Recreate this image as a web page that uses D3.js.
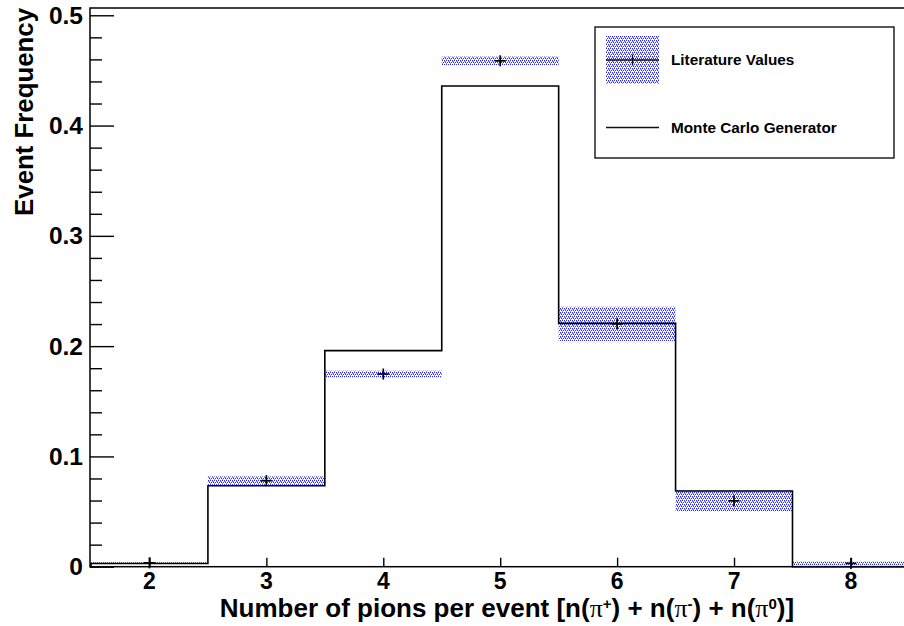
<!DOCTYPE html>
<html><head><meta charset="utf-8">
<script src="https://cdn.jsdelivr.net/npm/d3@7"></script>
<style>body{margin:0;background:#fff}svg{display:block}text{font-family:"Liberation Sans",Arial,Helvetica,sans-serif;font-weight:bold}</style>
</head><body>
<svg id="c" width="904" height="626"></svg>
<script>
const bins = [2, 3, 4, 5, 6, 7, 8];
const mcValues = [0.0029, 0.0734, 0.1959, 0.4359, 0.2206, 0.0686, 0.0];
const litValues = [0.0035, 0.0780, 0.1747, 0.4587, 0.2202, 0.0597, 0.0030];
const litErrors = [0.0005, 0.0038, 0.0030, 0.0038, 0.0155, 0.0094, 0.0015];
const yTicks = [0, 0.1, 0.2, 0.3, 0.4, 0.5];
const yTickLabels = ["0", "0.1", "0.2", "0.3", "0.4", "0.5"];
const xTickLabels = ["2", "3", "4", "5", "6", "7", "8"];
const legendLabels = ["Literature Values", "Monte Carlo Generator"];

const svg = d3.select("#c");
const x = d3.scaleLinear().domain([1.5, 8.5]).range([91, 909.4]);
const y = d3.scaleLinear().domain([0, 0.5066]).range([566.7, 8]);

const defs = svg.append("defs");
const pat = defs.append("pattern").attr("id", "dots").attr("patternUnits", "userSpaceOnUse")
  .attr("width", 4).attr("height", 4);
[[0,0],[2,0],[0,1],[1,2],[3,2],[2,3],[1,1]].forEach(([px,py]) =>
  pat.append("rect").attr("x", px).attr("y", py).attr("width", 1).attr("height", 1)
    .attr("fill", py % 2 === 0 ? "#2a2aff" : "#8585ff"));

// literature bands
const lit = bins.map((b, i) => ({b, v: litValues[i], e: litErrors[i]}));
svg.append("g").selectAll("rect").data(lit).join("rect")
  .attr("x", d => x(d.b - 0.5)).attr("width", d => x(d.b + 0.5) - x(d.b - 0.5))
  .attr("y", d => y(d.v + d.e)).attr("height", d => Math.max(1, y(d.v - d.e) - y(d.v + d.e)))
  .attr("fill", "url(#dots)");

// MC histogram step line
const pts = [[1.5, 0]];
bins.forEach((b, i) => { pts.push([b - 0.5, mcValues[i]]); pts.push([b + 0.5, mcValues[i]]); });
pts.push([8.5, 0]);
svg.append("path")
  .attr("d", d3.line().x(d => x(d[0])).y(d => y(d[1])).curve(d3.curveLinear)(pts))
  .attr("fill", "none").attr("stroke", "#000").attr("stroke-width", 1.6);

// literature markers
const mk = svg.append("g").attr("stroke", "#000").attr("stroke-width", 1.7);
lit.forEach(d => {
  mk.append("line").attr("x1", x(d.b) - 5.5).attr("x2", x(d.b) + 5.5).attr("y1", y(d.v)).attr("y2", y(d.v));
  mk.append("line").attr("x1", x(d.b)).attr("x2", x(d.b)).attr("y1", y(d.v) - 5.5).attr("y2", y(d.v) + 5.5);
});

// frame
svg.append("rect").attr("x", 90).attr("y", 8).attr("width", 830).attr("height", 566.7 - 8)
  .attr("fill", "none").attr("stroke", "#000").attr("stroke-width", 1.5);

// y axis ticks
const yAxis = d3.axisRight(y).tickValues(d3.range(0, 0.5001, 0.02)).tickSize(0).tickFormat("");
const yg = svg.append("g").attr("transform", "translate(90,0)");
yg.call(yAxis); yg.select(".domain").remove();
yg.selectAll(".tick line").attr("x2", (d) => (Math.abs(Math.round(d * 10) - d * 10) < 1e-6 ? 24 : 12))
  .attr("stroke", "#000").attr("stroke-width", 1.4);
yTicks.forEach((t, i) => {
  svg.append("text").attr("x", 83).attr("y", y(t) + 8.5).attr("text-anchor", "end")
    .attr("font-size", 24.5).text(yTickLabels[i]);
});

// x axis ticks
const xg = svg.append("g").attr("transform", "translate(0,566.7)");
xg.call(d3.axisTop(x).tickValues(bins).tickSize(9).tickFormat(""));
xg.select(".domain").remove();
xg.selectAll(".tick line").attr("stroke", "#000").attr("stroke-width", 1.4);
bins.forEach((b, i) => {
  svg.append("text").attr("x", x(b)).attr("y", 589).attr("text-anchor", "middle")
    .attr("font-size", 23).text(xTickLabels[i]);
});

// axis titles
const xt = svg.append("text").attr("x", 507).attr("y", 616.5).attr("text-anchor", "middle").attr("font-size", 26);
const pi = () => xt.append("tspan").attr("font-family", "Liberation Serif, serif").attr("font-weight", "normal").text("π");
xt.append("tspan").text("Number of pions per event [n(");
pi();
xt.append("tspan").attr("font-size", 15).attr("dy", -8).text("+");
xt.append("tspan").attr("dy", 8).text(") + n(");
pi();
xt.append("tspan").attr("font-size", 15).attr("dy", -8).text("-");
xt.append("tspan").attr("dy", 8).text(") + n(");
pi();
xt.append("tspan").attr("font-size", 15).attr("dy", -8).text("0");
xt.append("tspan").attr("dy", 8).text(")]");

svg.append("text").attr("transform", "translate(33,8) rotate(-90)").attr("text-anchor", "end")
  .attr("font-size", 25.8).text("Event Frequency");

// legend
const lg = svg.append("g");
lg.append("rect").attr("x", 595).attr("y", 27).attr("width", 299).attr("height", 131)
  .attr("fill", "#fff").attr("stroke", "#000").attr("stroke-width", 1.3);
lg.append("rect").attr("x", 606).attr("y", 36).attr("width", 53).attr("height", 48).attr("fill", "url(#dots)");
lg.append("line").attr("x1", 606).attr("x2", 659).attr("y1", 60).attr("y2", 60).attr("stroke", "#111").attr("stroke-width", 1.3);
lg.append("line").attr("x1", 632.5).attr("x2", 632.5).attr("y1", 54.5).attr("y2", 65.5).attr("stroke", "#111").attr("stroke-width", 1.3);
lg.append("line").attr("x1", 606).attr("x2", 659).attr("y1", 127.5).attr("y2", 127.5).attr("stroke", "#111").attr("stroke-width", 1.3);
lg.append("text").attr("x", 671).attr("y", 65).attr("font-size", 15.3).text(legendLabels[0]);
lg.append("text").attr("x", 671).attr("y", 133).attr("font-size", 15.3).text(legendLabels[1]);
</script>
</body></html>
